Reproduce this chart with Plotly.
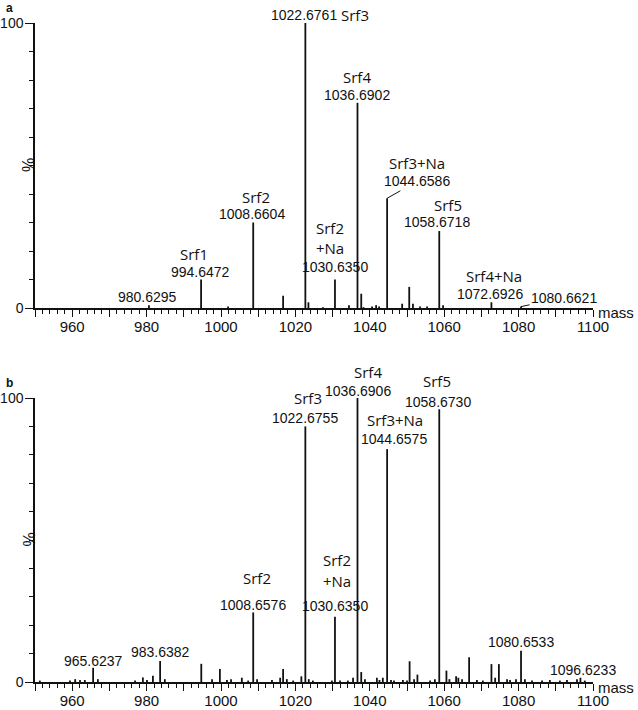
import plotly.graph_objects as go

# spectrum a : m/z and relative intensity (%)
mz_a = [980.6295, 994.6472, 1001.9, 1008.6604, 1016.7, 1022.6761, 1023.5, 1027.4,
        1030.6350, 1034.4, 1036.6902, 1037.7, 1038.3, 1040.6, 1041.7, 1042.5,
        1044.6586, 1048.7, 1050.6, 1051.6, 1053.5, 1055.4, 1058.6718, 1059.7,
        1072.6926, 1080.6621]
int_a = [1.0, 10, 0.5, 30, 4.3, 100, 2.0, 0.3,
         10, 1.0, 72, 5.0, 0.3, 0.5, 1.0, 0.5,
         38.5, 1.5, 7.4, 1.5, 0.5, 0.5, 27, 1.0,
         2.0, 0.5]

# spectrum b
mz_b = [951.3, 959.4, 960.8, 962.1, 963.4, 965.6237, 966.9, 976.9, 979.0, 980.1,
        981.7, 983.6382, 984.9, 994.7, 997.6, 999.7, 1001.6, 1002.7, 1005.6, 1007.3,
        1008.6576, 1009.7, 1013.7, 1015.9, 1016.7, 1017.7, 1019.4, 1021.6, 1022.6755, 1023.6,
        1024.7, 1029.8, 1030.6350, 1032.0, 1034.1, 1035.5, 1036.6906, 1037.7, 1038.7, 1041.9,
        1042.6, 1043.5, 1044.6575, 1045.7, 1046.5, 1048.9, 1050.0, 1050.7, 1051.9, 1052.8,
        1056.2, 1057.5, 1058.6730, 1060.6, 1061.4, 1063.2, 1063.8, 1064.8, 1066.7, 1068.8,
        1070.4, 1072.7, 1073.7, 1074.7, 1076.9, 1077.7, 1079.3, 1080.6533, 1081.7, 1083.6,
        1086.3, 1088.4, 1091.1, 1093.0, 1095.7, 1096.6233, 1097.8]
int_b = [0.5, 0.5, 1.0, 0.7, 0.7, 5.0, 1.0, 0.5, 1.6, 0.7,
         2.2, 7.4, 1.0, 6.4, 1.0, 4.6, 0.7, 1.0, 1.5, 0.5,
         24.5, 1.0, 0.7, 1.5, 4.6, 1.0, 0.5, 2.0, 90, 1.0,
         0.5, 0.5, 23, 0.5, 0.5, 1.5, 100, 3.5, 1.0, 1.5,
         0.7, 1.5, 82, 0.7, 0.5, 0.7, 0.5, 7.3, 1.0, 2.6,
         0.5, 1.0, 96, 4.0, 1.0, 2.0, 1.5, 1.0, 8.7, 0.7,
         0.5, 6.3, 1.5, 6.3, 1.0, 0.7, 1.0, 11, 1.0, 0.5,
         0.5, 0.7, 0.5, 0.7, 1.0, 1.5, 0.5]

# peak labels
lab_mz_a = [1022.6761, 1036.6902, 1058.6718, 1008.6604, 994.6472, 980.6295, 1030.6350, 1072.6926]
lab_int_a = [100, 72, 27, 30, 10, 1.0, 10, 2.0]
lead_mz_a = [1044.6586, 1080.6621]
lead_int_a = [38.5, 0.5]
name_a = ["Srf3", "Srf4", "Srf3+Na", "Srf5", "Srf2", "Srf1", "Srf2", "+Na", "Srf4+Na"]
name_mz_a = [1022.6761, 1036.6902, 1044.6586, 1058.6718, 1008.6604, 994.6472, 1030.6350, 1030.6350, 1072.6926]
name_int_a = [100, 72, 38.5, 27, 30, 10, 10, 10, 2.0]

lab_mz_b = [1022.6755, 1036.6906, 1058.6730, 1044.6575, 1030.6350, 1008.6576,
            965.6237, 983.6382, 1080.6533, 1096.6233]
lab_int_b = [90, 100, 96, 82, 23, 24.5, 5.0, 7.4, 11, 1.5]
name_b = ["Srf3", "Srf4", "Srf5", "Srf3+Na", "Srf2", "+Na", "Srf2"]
name_mz_b = [1022.6755, 1036.6906, 1058.6730, 1044.6575, 1030.6350, 1030.6350, 1008.6576]
name_int_b = [90, 100, 96, 82, 23, 23, 24.5]

# pixel offsets of the label text from the peak top (dx, dy up)
off_lab_a = [(-1, 8), (0, 8), (-2, 9), (-1, 8), (-1, 7), (-1, 8), (0, 12), (-1, 8)]
off_lead_a = [(30, -17), (43, -9)]
off_name_a = [(50, 8), (0, 26), (30, 35), (9, 26), (3, 25), (-7, 25), (-5, 51), (-5, 31), (3, 26)]
off_lab_b = [(0, 8), (1, 7), (-1, 7), (7, 10), (0, 11), (0, 7), (0, 7), (0, 9), (0, 9), (3, 8)]
off_name_b = [(3, 28), (11, 26), (-2, 28), (8, 29), (2, 57), (2, 36), (4, 34)]

NUM_FONT = dict(family="Liberation Sans, Arial", size=14, color="#111")
NAME_FONT = dict(family="Open Sans", size=15, color="#111")


def sticks(mz, inten):
    xs, ys = [], []
    for m, v in zip(mz, inten):
        xs += [m, m, None]
        ys += [0, v, None]
    return xs, ys


fig = go.Figure()
for mz, inten, xa, ya in [(mz_a, int_a, "x", "y"), (mz_b, int_b, "x2", "y2")]:
    xs, ys = sticks(mz, inten)
    fig.add_trace(go.Scatter(x=xs, y=ys, mode="lines", xaxis=xa, yaxis=ya,
                             line=dict(color="#111", width=1.8), showlegend=False,
                             hoverinfo="skip"))

ann = []


def label(xr, yr, m, v, text, off, font):
    ann.append(dict(x=m, y=v, xref=xr, yref=yr, text=text, showarrow=False,
                    xanchor="center", yanchor="middle", xshift=off[0], yshift=off[1],
                    font=font))


for m, v, o in zip(lab_mz_a, lab_int_a, off_lab_a):
    label("x", "y", m, v, "%.4f" % m, o, NUM_FONT)
for t, m, v, o in zip(name_a, name_mz_a, name_int_a, off_name_a):
    label("x", "y", m, v, t, o, NAME_FONT)
for m, v, o in zip(lead_mz_a, lead_int_a, off_lead_a):
    ann.append(dict(x=m, y=v, xref="x", yref="y", text="%.4f" % m, showarrow=True,
                    arrowhead=0, arrowwidth=1, arrowcolor="#111", standoff=0,
                    ax=o[0], ay=o[1], font=NUM_FONT))
for m, v, o in zip(lab_mz_b, lab_int_b, off_lab_b):
    label("x2", "y2", m, v, "%.4f" % m, o, NUM_FONT)
for t, m, v, o in zip(name_b, name_mz_b, name_int_b, off_name_b):
    label("x2", "y2", m, v, t, o, NAME_FONT)

for yr, letter in [("y", "a"), ("y2", "b")]:
    ann.append(dict(x=0.006, xref="paper", y=100, yref=yr, text="<b>%s</b>" % letter,
                    showarrow=False, xanchor="left", yanchor="bottom", yshift=6,
                    font=dict(family="Liberation Sans, Arial", size=12, color="#111")))
    ann.append(dict(x=18 / 638, xref="paper", y=50, yref=yr, text="%", textangle=-90,
                    showarrow=False, font=dict(family="Liberation Sans, Arial", size=16, color="#111")))
    ann.append(dict(x=1, xref="x domain" if yr == "y" else "x2 domain", y=0, yref=yr,
                    text="mass", showarrow=False, xanchor="left", yanchor="middle",
                    xshift=3, yshift=-5,
                    font=dict(family="Liberation Sans, Arial", size=15, color="#111")))

tickvals = list(range(950, 1101, 10))
ticktext = [str(v) if v % 20 == 0 else "" for v in tickvals]
xcommon = dict(range=[950, 1100], showgrid=False, zeroline=False, showline=True,
               linecolor="#111", linewidth=1.5, ticks="outside", ticklen=7, tickwidth=1.3,
               tickcolor="#111", tickvals=tickvals, ticktext=ticktext, ticklabelstandoff=-3,
               minor=dict(dtick=2, tick0=950, ticks="outside", ticklen=4, tickwidth=1.2,
                          tickcolor="#111", showgrid=False),
               tickfont=dict(family="Liberation Sans, Arial", size=15, color="#111"),
               domain=[35 / 638, 593 / 638], automargin=False)
ycommon = dict(range=[0, 100], showgrid=False, zeroline=False, showline=True,
               linecolor="#111", linewidth=1.5, ticks="outside", ticklen=8, tickwidth=1.3,
               tickcolor="#111", tickvals=[0, 100], ticklabelstandoff=-1,
               minor=dict(dtick=10, tick0=0, ticks="outside", ticklen=4, tickwidth=1.2,
                          tickcolor="#111", showgrid=False),
               tickfont=dict(family="Liberation Sans, Arial", size=14, color="#111"),
               automargin=False)

fig.update_layout(
    width=638, height=710,
    margin=dict(l=0, r=0, t=0, b=0),
    plot_bgcolor="white", paper_bgcolor="white",
    xaxis=dict(xcommon, anchor="y"),
    yaxis=dict(ycommon, anchor="x", domain=[1 - 308 / 710, 1 - 23 / 710]),
    xaxis2=dict(xcommon, anchor="y2"),
    yaxis2=dict(ycommon, anchor="x2", domain=[1 - 682 / 710, 1 - 398 / 710]),
    annotations=ann,
)

# drop the default page margin so the figure sits at the window's corner
fig.write_html("out.html", config={"displayModeBar": False},
               post_script="document.body.style.margin='0px';")
